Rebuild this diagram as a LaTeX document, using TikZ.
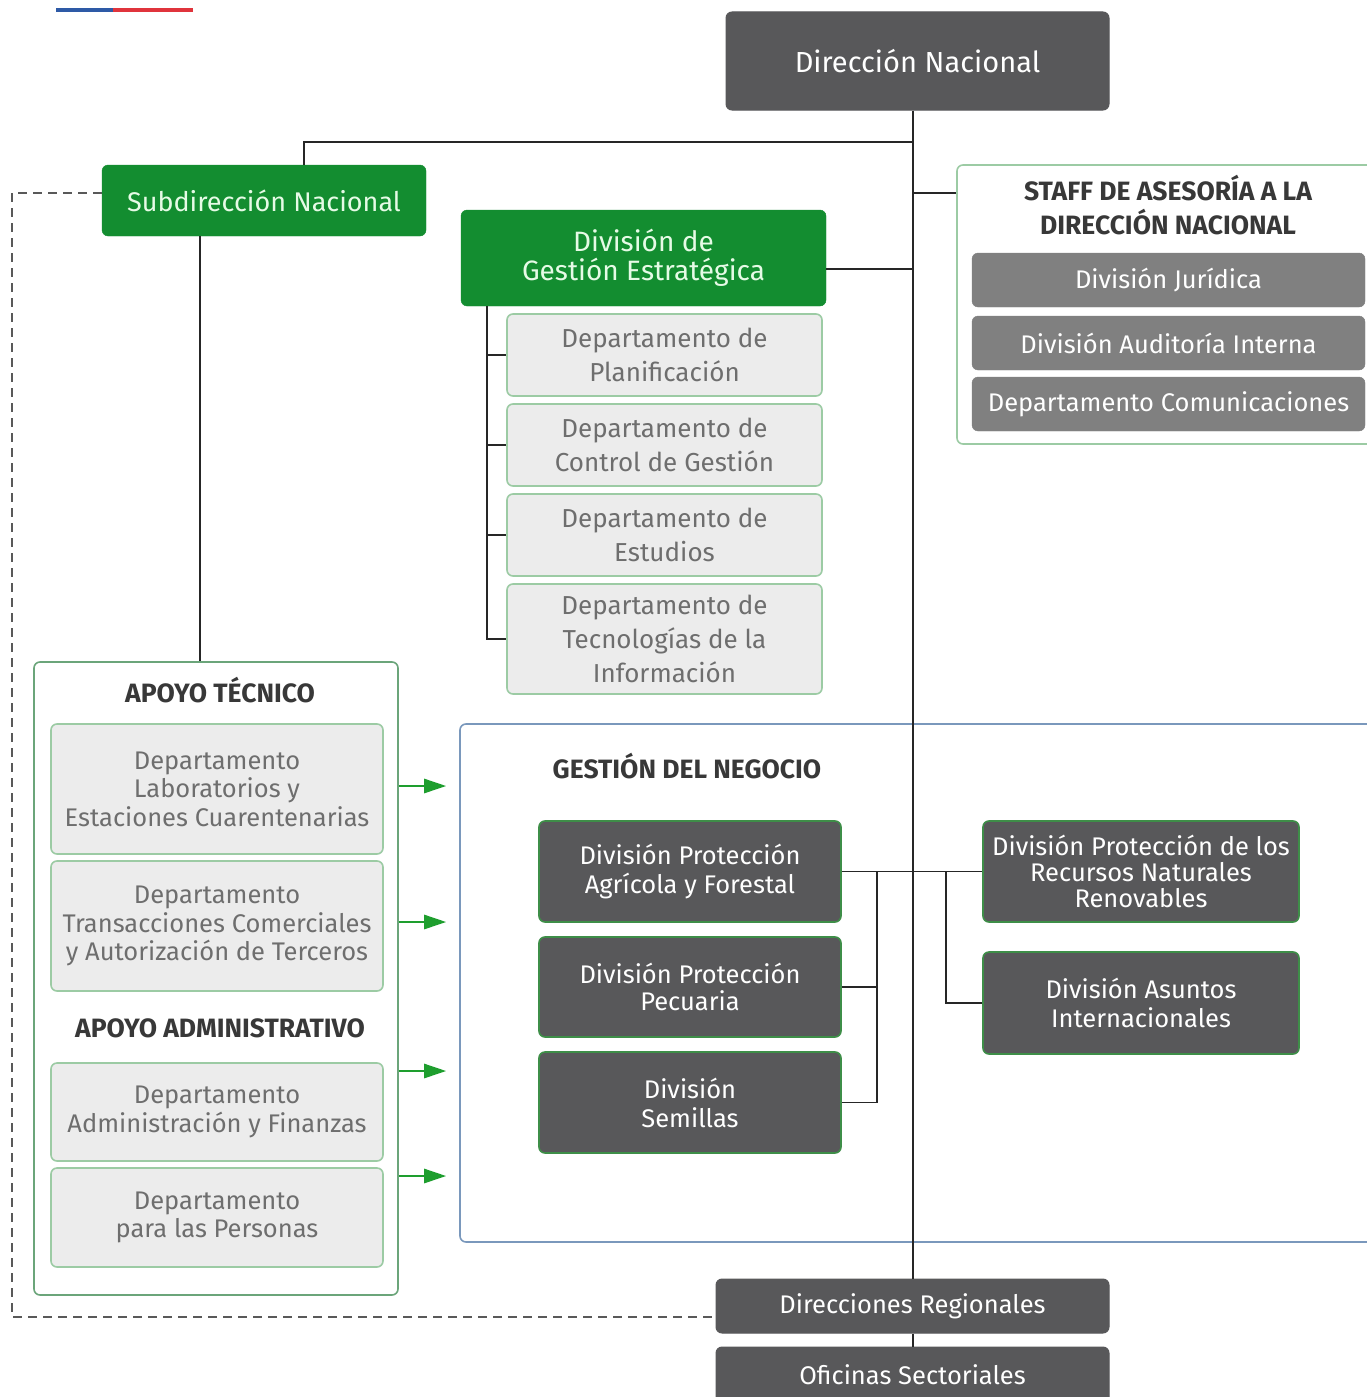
\documentclass[tikz,border=0pt]{standalone}
\usepackage{fontspec}
\setmainfont{Fira Sans}
\usetikzlibrary{calc,arrows.meta}
\definecolor{dgray}{HTML}{58585A}
\definecolor{sgreen}{HTML}{138D30}
\definecolor{lgfill}{HTML}{ECECEC}
\definecolor{lgborder}{HTML}{9CCBA4}
\definecolor{mgray}{HTML}{808080}
\definecolor{txtgray}{HTML}{6E6E6E}
\definecolor{titledark}{HTML}{383838}
\definecolor{boxblue}{HTML}{7A98BC}
\definecolor{arrowgreen}{HTML}{1E9E2E}
\definecolor{flagblue}{HTML}{2E5AA6}
\definecolor{flagred}{HTML}{E0343C}
\definecolor{apborder}{HTML}{6BA57A}
\definecolor{dkborder}{HTML}{3E8E48}
\definecolor{greentext}{HTML}{E6FBE6}
\newcommand{\fsz}[2]{\fontsize{#1}{#2}\selectfont}
\tikzset{
  box/.style={rectangle, rounded corners=6pt, inner sep=0pt, align=center},
  darkbox/.style={box, fill=dgray, draw=dgray, text=white, line width=1pt},
  dkgreenbox/.style={box, fill=dgray, draw=dkborder, text=white, line width=1.6pt},
  greenbox/.style={box, fill=sgreen, draw=sgreen, text=greentext},
  lightbox/.style={box, fill=lgfill, draw=lgborder, text=txtgray, line width=1.6pt},
  midbox/.style={box, fill=mgray, draw=mgray, text=white},
  container/.style={rectangle, rounded corners=6pt, fill=white, inner sep=0pt},
  title/.style={text=titledark, font=\bfseries\fsz{26.5}{34}, align=center, inner sep=0pt},
  conn/.style={draw=black!85, line width=1.6pt},
  dashline/.style={draw=black!65, line width=1.6pt, dash pattern=on 9pt off 6pt},
  greenarrow/.style={draw=arrowgreen, line width=2.6pt, -{Triangle[length=22pt,width=14pt]}}
}
\begin{document}
\begin{tikzpicture}[x=1pt,y=-1pt]
\useasboundingbox (0,0) rectangle (1367,1397);
\fill[white] (0,0) rectangle (1367,1397);
% flag bar
\fill[flagblue] (56,8) rectangle (113,12);
\fill[flagred] (113,8) rectangle (193,12);

% containers
\node[container, draw=lgborder, line width=1.6pt, minimum width=420pt, minimum height=279pt] (staff) at (1167,304.5) {};
\node[container, draw=apborder, line width=1.6pt, minimum width=364pt, minimum height=633pt] (apoyo) at (216,978.5) {};
\node[container, draw=boxblue, line width=1.6pt, minimum width=920pt, minimum height=518pt] (gestion) at (920,983) {};

% top
\node[darkbox, minimum width=383pt, minimum height=98pt, font=\fsz{29}{32}] (dn) at (917.5,61) {Dirección Nacional};
\node[greenbox, minimum width=324pt, minimum height=71pt, font=\fsz{27}{32}] (sub) at (264,200.5) {Subdirección Nacional};
\node[greenbox, minimum width=365pt, minimum height=96pt, font=\fsz{28}{29}] (dge) at (643.5,258) {División de\\Gestión Estratégica};

% DGE departments
\node[lightbox, minimum width=315pt, minimum height=82pt, font=\fsz{26}{34}] (p1) at (664.5,355) {Departamento de\\Planificación};
\node[lightbox, minimum width=315pt, minimum height=82pt, font=\fsz{26}{34}] (p2) at (664.5,445) {Departamento de\\Control de Gestión};
\node[lightbox, minimum width=315pt, minimum height=82pt, font=\fsz{26}{34}] (p3) at (664.5,535) {Departamento de\\Estudios};
\node[lightbox, minimum width=315pt, minimum height=110pt, font=\fsz{26}{34}] (p4) at (664.5,639) {Departamento de\\Tecnologías de la\\Información};

% staff
\node[title] (stafft) at (1168,205) {STAFF DE ASESORÍA A LA\\DIRECCIÓN NACIONAL};
\node[midbox, minimum width=393pt, minimum height=54pt, font=\fsz{25.5}{30}] (j1) at (1168.5,280) {División Jurídica};
\node[midbox, minimum width=393pt, minimum height=54pt, font=\fsz{25.5}{30}] (j2) at (1168.5,343) {División Auditoría Interna};
\node[midbox, minimum width=393pt, minimum height=54pt, font=\fsz{25.5}{30}] (j3) at (1168.5,404) {Departamento Comunicaciones};

% apoyo
\node[title] (apt) at (220,690) {APOYO TÉCNICO};
\node[lightbox, minimum width=332pt, minimum height=130pt, font=\fsz{25.5}{28.5}] (a1) at (217,789) {Departamento\\Laboratorios y\\Estaciones Cuarentenarias};
\node[lightbox, minimum width=332pt, minimum height=130pt, font=\fsz{25.5}{28.5}] (a2) at (217,926) {Departamento\\Transacciones Comerciales\\y Autorización de Terceros};
\node[title] (apa) at (220,1028) {APOYO ADMINISTRATIVO};
\node[lightbox, minimum width=332pt, minimum height=98pt, font=\fsz{25.5}{28.5}] (a3) at (217,1112) {Departamento\\Administración y Finanzas};
\node[lightbox, minimum width=332pt, minimum height=99pt, font=\fsz{25.5}{28.5}] (a4) at (217,1217.5) {Departamento\\para las Personas};

% gestion del negocio
\node[title, anchor=center] (gnt) at (687,766) {GESTIÓN DEL NEGOCIO};
\node[dkgreenbox, minimum width=302pt, minimum height=101pt, font=\fsz{25.5}{29}] (g1) at (690,871.5) {División Protección\\Agrícola y Forestal};
\node[dkgreenbox, minimum width=302pt, minimum height=100pt, font=\fsz{25.5}{27}] (g2) at (690,987) {División Protección\\Pecuaria};
\node[dkgreenbox, minimum width=302pt, minimum height=101pt, font=\fsz{25.5}{29}] (g3) at (690,1102.5) {División\\Semillas};
\node[dkgreenbox, minimum width=316pt, minimum height=101pt, font=\fsz{25.5}{26}] (r1) at (1141,871.5) {División Protección de los\\Recursos Naturales\\Renovables};
\node[dkgreenbox, minimum width=316pt, minimum height=102pt, font=\fsz{25.5}{29}] (r2) at (1141,1003) {División Asuntos\\Internacionales};

% bottom
\node[darkbox, minimum width=393pt, minimum height=54pt, font=\fsz{25.5}{30}] (dr) at (912.5,1306) {Direcciones Regionales};
\node[darkbox, minimum width=393pt, minimum height=56pt, font=\fsz{25.5}{30}] (os) at (912.5,1375) {Oficinas Sectoriales};

% connectors
\coordinate (jtop) at (913,142);
\draw[conn] (dn.south -| jtop) -- (dr.north -| jtop);
\draw[conn] (dr.south -| jtop) -- (os.north -| jtop);
\coordinate (st) at ($(sub.north)+(40,0)$);
\draw[conn] (st) |- (jtop);
\coordinate (sd) at ($(sub.south)+(-64,0)$);
\draw[conn] (sd) -- (sd |- apoyo.north);
\coordinate (sj) at (913,193);
\draw[conn] (sj) -- (sj -| staff.west);
\coordinate (dj) at (913,269);
\draw[conn] (dj -| dge.east) -- (dj);
\coordinate (dl) at (487,306);
\draw[conn] (dl) |- (p4.west);
\draw[conn] (dl |- p1.west) -- (p1.west);
\draw[conn] (dl |- p2.west) -- (p2.west);
\draw[conn] (dl |- p3.west) -- (p3.west);

% dashed
\coordinate (ds1) at (12,193);
\coordinate (ds2) at (12,1317);
\draw[dashline] (sub.west |- ds1) -- (ds1) -- (ds2) -- (ds2 -| dr.west);

% green arrows
\foreach \yy in {786,922,1071,1176}{
  \draw[greenarrow] (apoyo.east |- 0,\yy) -- ($(gestion.west |- 0,\yy)+(-13,0)$);
}

% gestion connectors
\draw[conn] (g1.east) -- (r1.west);
\coordinate (gl) at (877,871.5);
\draw[conn] (g2.east) -| (gl);
\draw[conn] (g3.east) -| (gl);
\coordinate (gr) at (946,871.5);
\draw[conn] (r2.west) -| (gr);
\end{tikzpicture}
\end{document}
